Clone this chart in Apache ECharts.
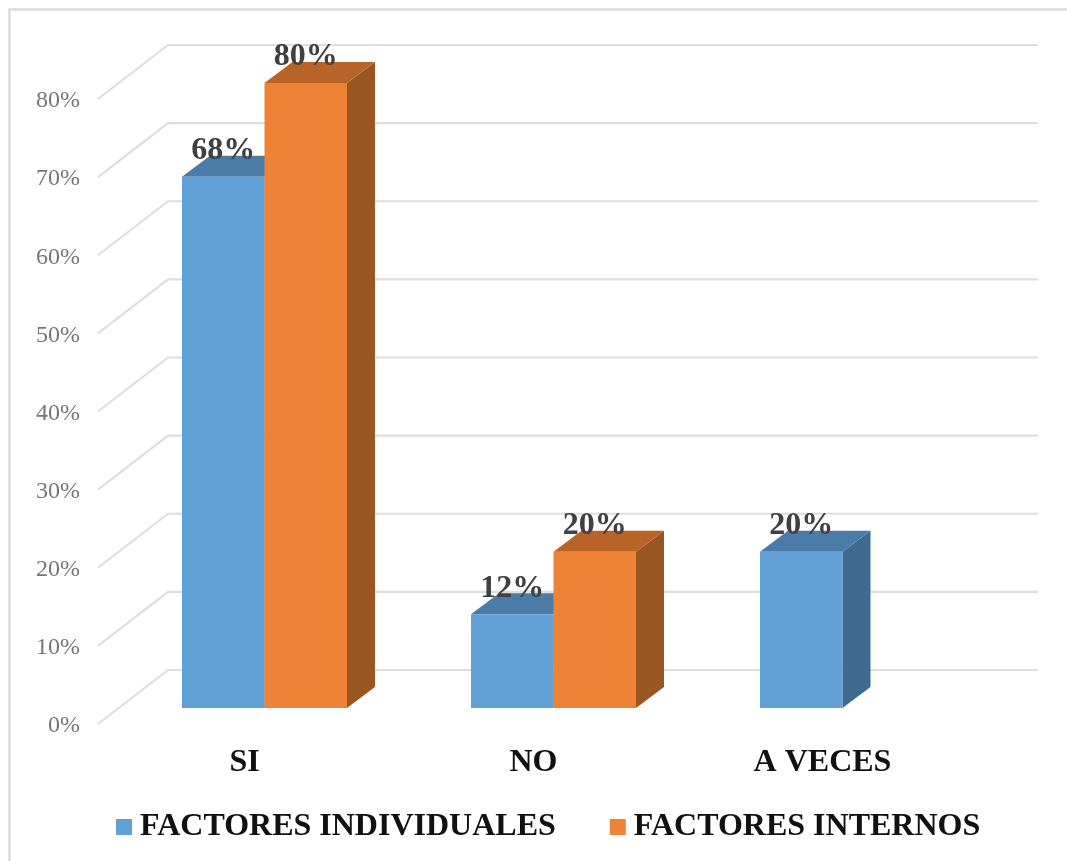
<!DOCTYPE html>
<html><head><meta charset="utf-8">
<style>html,body{margin:0;padding:0;background:#fff}#c{width:1067px;height:861px}</style>
<script src="https://cdn.jsdelivr.net/npm/echarts@6/dist/echarts.min.js"></script>
</head><body><div id="c"></div>
<script>
const categories = ['SI', 'NO', 'A VECES'];
const factoresIndividuales = [68, 12, 20];
const factoresInternos = [80, 20, null];
const yTicks = [0, 10, 20, 30, 40, 50, 60, 70, 80];
const seriesNames = ['FACTORES INDIVIDUALES', 'FACTORES INTERNOS'];

const SERIF = '"Liberation Serif","Times New Roman",serif';
const wallDY = -54;
const barOffX = 20, barOffY = -16, depthX = 28, depthY = -21;

function barRender(idx, front, top, side, labelColor) {
  return function (params, api) {
    const v = api.value(1);
    if (v == null || isNaN(v)) return null;
    const base = api.coord([api.value(0), 0]);
    const head = api.coord([api.value(0), v]);
    const w = api.size([1, 0])[0] * 0.2855;
    const x0 = base[0] + barOffX + (idx === 0 ? -w : 0);
    const x1 = x0 + w;
    const yb = base[1] + barOffY, yt = head[1] + barOffY;
    const poly = (pts, fill) => ({ type: 'polygon', shape: { points: pts }, style: { fill: fill } });
    return {
      type: 'group',
      children: [
        poly([[x1, yb], [x1 + depthX, yb + depthY], [x1 + depthX, yt + depthY], [x1, yt]], side),
        poly([[x0, yt], [x0 + depthX, yt + depthY], [x1 + depthX, yt + depthY], [x1, yt]], top),
        poly([[x0, yb], [x1, yb], [x1, yt], [x0, yt]], front),
        { type: 'text', z2: 50, style: {
            text: v + '%', x: (x0 + x1) / 2, y: yt - 26, align: 'center', verticalAlign: 'middle',
            font: 'bold 32px ' + SERIF, fill: labelColor } }
      ]
    };
  };
}

const chart = echarts.init(document.getElementById('c'), null, { renderer: 'canvas' });
chart.setOption({
  animation: false,
  backgroundColor: '#fff',
  grid: { left: 100, top: 99, width: 867, height: 625 },
  legend: {
    left: 111, top: 806, itemWidth: 16, itemHeight: 16, itemGap: 54, icon: 'rect',
    data: seriesNames,
    textStyle: { fontFamily: SERIF, fontWeight: 'bold', fontSize: 32, color: '#111', padding: [0, 0, 0, 3] }
  },
  graphic: [{ type: 'polyline', silent: true, z: -10,
    shape: { points: [[9.5, 861], [9.5, 9.5], [1067, 9.5]] },
    style: { fill: 'none', stroke: '#DADADA', lineWidth: 2.5 } }],
  xAxis: {
    type: 'category', data: categories,
    axisLine: { show: false }, axisTick: { show: false }, splitLine: { show: false },
    axisLabel: { margin: 23, fontFamily: SERIF, fontWeight: 'bold', fontSize: 32, color: '#111' }
  },
  yAxis: {
    type: 'value', min: 0, max: 80, interval: 10,
    axisLine: { show: false }, axisTick: { show: false }, splitLine: { show: false },
    axisLabel: { margin: 20, fontFamily: SERIF, fontSize: 24, color: '#767676', formatter: '{value}%', verticalAlign: 'top', lineHeight: 4 }
  },
  series: [
    {
      type: 'custom', silent: true, z: 1, legendHoverLink: false,
      data: yTicks.map(t => [t]),
      encode: { y: 0 },
      renderItem(params, api) {
        const r = api.coord([categories[0], api.value(0)]);
        const cs = params.coordSys;
        const y = r[1], xl = cs.x, xr = cs.x + cs.width;
        return { type: 'polyline', shape: { points: [[xl - 2, y], [xl + 68, y + wallDY], [xr + 71, y + wallDY]] },
          style: { stroke: '#DEDEDE', lineWidth: 2.2, fill: 'none' } };
      }
    },
    {
      name: seriesNames[0], type: 'custom', z: 2, itemStyle: { color: '#619FD7' },
      data: factoresIndividuales.map((v, i) => [i, v]), encode: { x: 0, y: 1 },
      renderItem: barRender(0, '#619FD7', '#4B7BA7', '#3F6A90', '#404040')
    },
    {
      name: seriesNames[1], type: 'custom', z: 3, itemStyle: { color: '#EE8335' },
      data: factoresInternos.map((v, i) => [i, v]), encode: { x: 0, y: 1 },
      renderItem: barRender(1, '#EE8335', '#B86327', '#995620', '#404040')
    }
  ]
});
</script></body></html>
